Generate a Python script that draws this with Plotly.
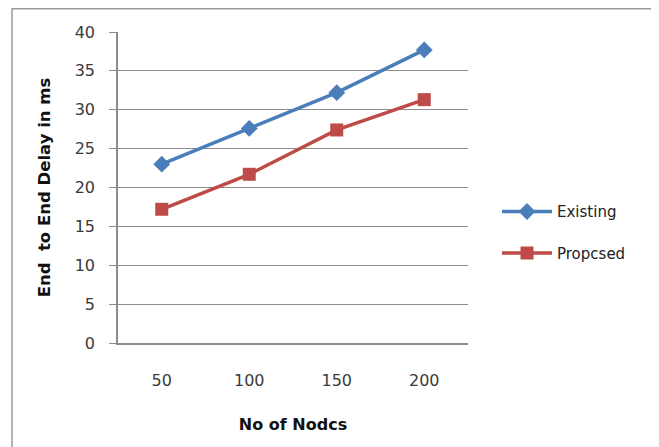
import plotly.graph_objects as go

categories = ["50", "100", "150", "200"]
existing = [23.0, 27.6, 32.2, 37.7]
proposed = [17.2, 21.7, 27.4, 31.3]
y_ticks = [0, 5, 10, 15, 20, 25, 30, 35, 40]

FONT = "'DejaVu Sans', Verdana, sans-serif"
# page body has an 8px margin, so the figure is drawn 8px offset
W, H = 651, 439
L, R, T, B = 110, 191, 24, 104
PW, PH = W - L - R, H - T - B

fig = go.Figure()
fig.add_trace(go.Scatter(
    x=categories, y=existing, name="Existing", mode="lines+markers",
    line=dict(color="#4A7EBB", width=3.5),
    marker=dict(symbol="diamond", size=13, color="#4A7EBB"),
    legendgroup="a",
))
fig.add_trace(go.Scatter(
    x=categories, y=proposed, name="Propcsed", mode="lines+markers",
    line=dict(color="#BE4B48", width=3.5),
    marker=dict(symbol="square", size=13, color="#BE4B48"),
    legendgroup="b",
))

fig.update_layout(
    width=W, height=H,
    margin=dict(l=L, r=R, t=T, b=B, autoexpand=False),
    paper_bgcolor="white", plot_bgcolor="white",
    font=dict(family=FONT, size=16, color="#3a3a3a"),
    showlegend=True,
    legend=dict(x=(489 - L) / PW, y=0.356, xanchor="left", yanchor="middle",
                traceorder="grouped", tracegroupgap=19, itemwidth=50,
                font=dict(size=15, color="#222222"), bgcolor="rgba(0,0,0,0)"),
    shapes=[dict(type="rect", xref="paper", yref="paper",
                 x0=(4 - L) / PW, x1=(660 - L) / PW,
                 y0=-(450 - (H - B)) / PH, y1=1 + (T - 0.8) / PH,
                 line=dict(color="#9a9a9a", width=1.5), layer="below")],
)

fig.update_xaxes(
    type="category", range=[-0.5, 3.5],
    showline=True, linecolor="#8c8c8c", linewidth=1.5,
    showgrid=False, ticks="", ticklabelstandoff=22,
    tickfont=dict(size=16, color="#3a3a3a"),
    title=dict(text="<b>No of Nodcs</b>", font=dict(size=16, color="#111111"), standoff=30),
    automargin=False,
)
fig.update_yaxes(
    range=[0, 40], tickvals=y_ticks,
    showline=True, linecolor="#8c8c8c", linewidth=1.5,
    showgrid=True, gridcolor="#8c8c8c", gridwidth=1,
    ticks="outside", ticklen=7, tickcolor="#8c8c8c",
    ticklabelstandoff=11,
    tickfont=dict(size=16, color="#3a3a3a"),
    zeroline=False,
    title=dict(text="<b>End  to End Delay in ms</b>", font=dict(size=16.5, color="#111111"), standoff=20),
    automargin=False,
)

fig.write_html("out.html")
